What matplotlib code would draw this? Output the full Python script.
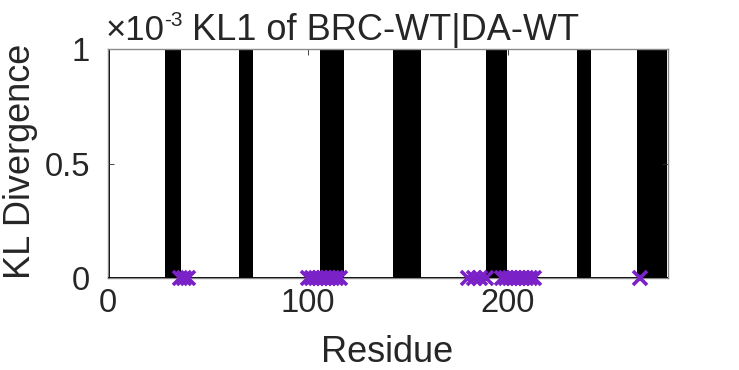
import matplotlib
matplotlib.use('Agg')
import matplotlib.pyplot as plt

plt.rcParams['font.family'] = ['Liberation Sans', 'DejaVu Sans']

W, H = 739, 370

# residue blocks where KL (x1e-3) runs off the top of the axis
block_start = [0, 28.5, 65.7, 106, 142.7, 189, 234.3, 264.6]
block_end = [1.2, 36.5, 72.7, 118, 156.5, 199.3, 241.3, 279.3]
block_kl = [5, 5, 5, 5, 5, 5, 5, 5]

# significant residues marked at y = 0
mark_res = [36, 38, 40, 100, 102, 104, 106, 108, 110, 112, 114, 116,
            180, 183, 186, 189, 197, 199, 201, 203, 205, 207, 209, 211, 213, 266]
mark_val = [0] * len(mark_res)

txt = '#262626'

fig = plt.figure(figsize=(W / 100, H / 100), dpi=100)
ax = fig.add_axes([108 / W, 1 - 278 / H, 560 / W, 229 / H])

widths = [e - s for s, e in zip(block_start, block_end)]
ax.bar(block_start, block_kl, width=widths, align='edge', color='black', linewidth=0)
ax.axhline(0, color='black', lw=2, zorder=3)
ax.plot(mark_res, mark_val, 'x', color='#7A22C8', ms=10, mew=2.6, clip_on=False, zorder=4)

ax.set_xlim(0, 280)
ax.set_ylim(0, 1)
ax.set_xticks([0, 100, 200])
ax.set_yticks([0, 0.5, 1])
ax.set_yticklabels(['0', '0.5', '1'])
ax.tick_params(direction='in', length=4, width=0.6, labelsize=23.5, colors=txt,
               top=True, right=True)
ax.tick_params(axis='x', pad=7)
ax.tick_params(axis='y', pad=13)
for sp in ax.spines.values():
    sp.set_color('#8a8a8a')
    sp.set_linewidth(1)

fig.text(387 / W, 1 - 362 / H, 'Residue', fontsize=26, color=txt, ha='center', va='baseline')
fig.text(21 / W, 1 - 161 / H, 'KL Divergence', fontsize=26, color=txt,
         rotation=90, ha='center', va='center')

# exponent label, MATLAB style
fig.text(106 / W, 1 - 40 / H, '×10', fontsize=25, color=txt, va='baseline')
fig.text(164 / W, 1 - 26 / H, '-3', fontsize=15, color=txt, va='baseline')
fig.text(192 / W, 1 - 40 / H, 'KL1 of BRC-WT|DA-WT', fontsize=26, color=txt, va='baseline')

fig.savefig('out.png', dpi=100)
